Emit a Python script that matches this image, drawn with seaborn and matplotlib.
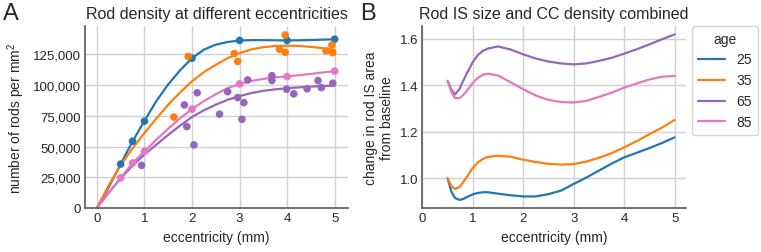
import numpy as np
import pandas as pd
import matplotlib
matplotlib.use("Agg")
import matplotlib.pyplot as plt
import seaborn as sns

ages = [25, 35, 65, 85]
colors = ["#1f77b4", "#ff7f0e", "#9467bd", "#e377c2"]

# ---- Panel A: measured rod densities (scatter) ----
a25_x = [0.5, 0.75, 1.0, 2.0, 3.0, 4.0, 5.0]
a25_y = [35700, 54300, 70600, 121800, 136300, 136300, 137300]
a35_x = [1.62, 1.92, 2.89, 2.96, 3.96, 3.84, 3.96, 4.82, 4.94, 4.96]
a35_y = [73900, 123300, 125600, 119200, 140700, 129100, 126600, 127700, 132500, 126300]
a65_x = [0.94, 1.84, 1.89, 2.04, 2.11, 2.58, 2.75, 2.96, 3.05, 3.09, 3.17,
         3.68, 3.68, 3.99, 4.14, 4.42, 4.65, 4.72, 4.96]
a65_y = [34700, 83800, 66200, 51300, 93700, 76300, 94600, 89800, 72200, 85700, 104100,
         107600, 103700, 96600, 92800, 96900, 103600, 97900, 101500]
a85_x = [0.5, 0.75, 1.0, 2.0, 3.0, 4.0, 5.0]
a85_y = [24500, 36600, 46100, 80400, 100900, 106900, 111300]

# ---- Panel A: fitted curves ----
fit_x = [0, 0.25, 0.5, 0.75, 1, 1.25, 1.5, 1.75, 2, 2.25, 2.5, 2.75, 3,
         3.25, 3.5, 3.75, 4, 4.25, 4.5, 4.75, 5]
fit25 = [0, 17000, 35800, 54200, 70800, 87000, 100500, 112000, 121800, 128800, 132800,
         135000, 136200, 136500, 136500, 136400, 136300, 136400, 136600, 136900, 137200]
fit35 = [0, 18500, 34800, 48500, 61000, 72800, 84000, 94000, 103000, 110500, 116500,
         121800, 126000, 129000, 130800, 131700, 132000, 131800, 131000, 130000, 128500]
fit65 = [0, 12500, 24000, 34500, 43500, 51500, 59500, 67000, 74000, 79500, 84000,
         88000, 91000, 93500, 95300, 96500, 97400, 98100, 98700, 99200, 99500]
fit85 = [0, 12500, 24500, 36500, 46000, 55500, 64500, 73000, 80500, 87000, 92500,
         97500, 100800, 103300, 105000, 106200, 107000, 108000, 109000, 110200, 111300]

# ---- Panel B: combined change curves ----
b_x = [0.5, 0.58, 0.65, 0.74, 0.81, 0.88, 1.0, 1.1, 1.2, 1.3, 1.5, 1.75, 2.0, 2.25,
       2.5, 2.75, 3.0, 3.25, 3.5, 3.75, 4.0, 4.25, 4.5, 4.75, 5.0]
b25 = [1.0, 0.94, 0.915, 0.907, 0.911, 0.919, 0.931, 0.937, 0.94, 0.94, 0.934, 0.927,
       0.922, 0.922, 0.932, 0.947, 0.976, 1.003, 1.033, 1.063, 1.09, 1.11, 1.13, 1.152, 1.176]
b35 = [1.0, 0.965, 0.954, 0.963, 0.983, 1.005, 1.045, 1.068, 1.083, 1.092, 1.097, 1.093,
       1.08, 1.07, 1.062, 1.059, 1.061, 1.072, 1.088, 1.108, 1.133, 1.16, 1.19, 1.218, 1.251]
b65 = [1.419, 1.38, 1.361, 1.385, 1.419, 1.45, 1.50, 1.53, 1.548, 1.558, 1.567, 1.554,
       1.533, 1.515, 1.502, 1.494, 1.49, 1.494, 1.505, 1.518, 1.536, 1.555, 1.576, 1.598, 1.619]
b85 = [1.419, 1.37, 1.345, 1.345, 1.358, 1.375, 1.41, 1.432, 1.445, 1.45, 1.442, 1.413,
       1.383, 1.356, 1.337, 1.328, 1.326, 1.333, 1.35, 1.368, 1.39, 1.408, 1.425, 1.437, 1.44]

# ---- build tidy frames ----
def long(xs, ys, age):
    return pd.DataFrame({"ecc": xs, "val": ys, "age": age})

pts = pd.concat([long(a25_x, a25_y, 25), long(a35_x, a35_y, 35),
                 long(a65_x, a65_y, 65), long(a85_x, a85_y, 85)], ignore_index=True)
fits = pd.concat([long(fit_x, fit25, 25), long(fit_x, fit35, 35),
                  long(fit_x, fit65, 65), long(fit_x, fit85, 85)], ignore_index=True)
comb = pd.concat([long(b_x, b25, 25), long(b_x, b35, 35),
                  long(b_x, b65, 65), long(b_x, b85, 85)], ignore_index=True)

palette = dict(zip(ages, colors))

sns.set_theme(style="whitegrid")
plt.rcParams["font.family"] = ["Liberation Sans", "DejaVu Sans"]
plt.rcParams["mathtext.default"] = "regular"
plt.rcParams["axes.edgecolor"] = "0.3"
plt.rcParams["grid.color"] = "0.82"

fig = plt.figure(figsize=(7.61, 2.53), dpi=100)
axA = fig.add_axes([85 / 761, 1 - 209 / 253, (348 - 85) / 761, (209 - 27) / 253])
axB = fig.add_axes([422.3 / 761, 1 - 209.3 / 253, (686 - 422.3) / 761, (209.3 - 27) / 253])

sns.scatterplot(data=pts, x="ecc", y="val", hue="age", palette=palette, s=30,
                linewidth=0, ax=axA, legend=False, zorder=3)
sns.lineplot(data=fits, x="ecc", y="val", hue="age", palette=palette, lw=1.6,
             ax=axA, legend=False, zorder=2)
axA.set_ylim(0, 148000)
axA.set_xlim(-0.25, 5.28)
axA.set_yticks([0, 25000, 50000, 75000, 100000, 125000])
axA.set_yticklabels(["0", "25,000", "50,000", "75,000", "100,000", "125,000"])
axA.set_xticks([0, 1, 2, 3, 4, 5])
axA.set_xlabel("eccentricity (mm)", fontsize=10)
axA.set_ylabel("number of rods per mm$^2$", fontsize=10)
axA.set_title("Rod density at different eccentricities", fontsize=11.5)

sns.lineplot(data=comb, x="ecc", y="val", hue="age", palette=palette, lw=1.6, ax=axB)
axB.set_xlim(0, 5.225)
axB.set_ylim(0.871, 1.655)
axB.set_xticks([0, 1, 2, 3, 4, 5])
axB.set_yticks([1.0, 1.2, 1.4, 1.6])
axB.set_yticklabels(["1.0", "1.2", "1.4", "1.6"])
axB.set_xlabel("eccentricity (mm)", fontsize=10)
axB.set_ylabel("change in rod IS area\nfrom baseline", fontsize=10)
axB.set_title("Rod IS size and CC density combined", fontsize=11.5)
leg = axB.legend(title="age", loc="upper left", bbox_to_anchor=(1.023, 1.0),
                 borderaxespad=0, fontsize=10, title_fontsize=10, frameon=True)

for ax in (axA, axB):
    sns.despine(ax=ax)
    ax.tick_params(labelsize=9.5, length=0, pad=3)
    for sp in ("left", "bottom"):
        ax.spines[sp].set_linewidth(1.2)
        ax.spines[sp].set_color("0.35")

fig.text(3 / 761, 1 - 20.5 / 253, "A", fontsize=17)
fig.text(360 / 761, 1 - 20.5 / 253, "B", fontsize=17)

fig.savefig("out.png", dpi=100)
